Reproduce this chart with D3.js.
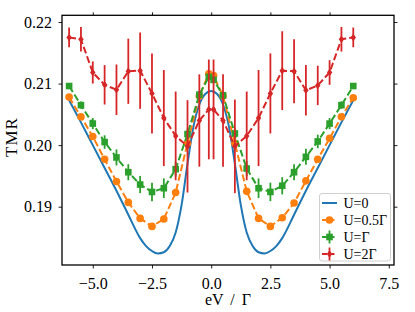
<!DOCTYPE html>
<html>
<head>
<meta charset="utf-8">
<script src="https://cdnjs.cloudflare.com/ajax/libs/d3/7.8.5/d3.min.js"></script>
<style>
    body { margin: 0; background: #fff; }
    text { font-family: "Liberation Serif", "DejaVu Serif", serif; fill: #000; }
</style>
</head>
<body>
<div id="chart"></div>
<script>
/*globals d3 */
// bias points shared by the three errorbar series
var xPoints = [-6, -5.5, -5, -4.5, -4, -3.5, -3, -2.5, -2, -1.5, -1, -0.5, -0.1,
               0.1, 0.5, 1, 1.5, 2, 2.5, 3, 3.5, 4, 4.5, 5, 5.5, 6];

// U=0, continuous curve
var blueX = [-6, -5.5, -5, -4.5, -4, -3.5, -3, -2.75, -2.5, -2.25, -2, -1.75, -1.5,
             -1.25, -1, -0.75, -0.5, -0.25, 0, 0.25, 0.5, 0.75, 1, 1.25, 1.5, 1.75,
             2, 2.25, 2.5, 2.75, 3, 3.5, 4, 4.5, 5, 5.5, 6];
var blueY = [0.2073, 0.2037, 0.2000, 0.1963, 0.1926, 0.1887, 0.1849, 0.1836, 0.1828,
             0.1824, 0.1826, 0.1836, 0.1858, 0.1903, 0.1970, 0.2030, 0.2066, 0.2083,
             0.2088, 0.2083, 0.2066, 0.2030, 0.1970, 0.1903, 0.1858, 0.1836, 0.1826,
             0.1824, 0.1828, 0.1836, 0.1849, 0.1887, 0.1926, 0.1963, 0.2000, 0.2037, 0.2073];

// U=0.5 Gamma
var halfY = [0.2078, 0.2046, 0.2014, 0.1977, 0.1941, 0.1907, 0.1881, 0.1868, 0.1880,
             0.1923, 0.2003, 0.2080, 0.2116, 0.2113, 0.2080, 0.2003, 0.1925, 0.1881,
             0.1868, 0.1882, 0.1906, 0.1942, 0.1977, 0.2011, 0.2046, 0.2077];
var halfErr = [0.0002, 0.0002, 0.0003, 0.0003, 0.0003, 0.0004, 0.0004, 0.0004, 0.0004,
               0.0004, 0.0003, 0.0003, 0.0003, 0.0003, 0.0003, 0.0003, 0.0004, 0.0004,
               0.0004, 0.0004, 0.0004, 0.0003, 0.0003, 0.0003, 0.0002, 0.0002];

// U=Gamma
var oneY = [0.2096, 0.2065, 0.2035, 0.2005, 0.1980, 0.1956, 0.1936, 0.1924, 0.1930,
            0.1961, 0.2018, 0.2082, 0.2111, 0.2106, 0.2081, 0.2019, 0.1962, 0.1930,
            0.1924, 0.1934, 0.1956, 0.1981, 0.2006, 0.2035, 0.2065, 0.2096];
var oneErr = [0.0003, 0.0006, 0.0009, 0.0011, 0.0013, 0.0013, 0.0014, 0.0015, 0.0016,
              0.0012, 0.0009, 0.0006, 0.0005, 0.0005, 0.0006, 0.0009, 0.0012, 0.0016,
              0.0015, 0.0014, 0.0013, 0.0013, 0.0011, 0.0009, 0.0006, 0.0003];

// U=2 Gamma
var twoY = [0.2175, 0.2172, 0.2118, 0.2098, 0.2090, 0.2120, 0.2121, 0.2084, 0.2044,
            0.2015, 0.1998, 0.2040, 0.2058, 0.2058, 0.2040, 0.1998, 0.2015, 0.2044,
            0.2084, 0.2121, 0.2120, 0.2089, 0.2097, 0.2118, 0.2172, 0.2175];
var twoErr = [0.0016, 0.0020, 0.0018, 0.0032, 0.0041, 0.0053, 0.0062, 0.0065, 0.0078,
              0.0072, 0.0075, 0.0075, 0.0081, 0.0081, 0.0075, 0.0076, 0.0072, 0.0078,
              0.0065, 0.0064, 0.0052, 0.0041, 0.0032, 0.0020, 0.0020, 0.0016];

var xTicks = [-5, -2.5, 0, 2.5, 5, 7.5];
var yTicks = [0.19, 0.20, 0.21, 0.22];
var legendLabels = ["U=0", "U=0.5\u0393", "U=\u0393", "U=2\u0393"];

(function () {
    'use strict';
    var width = 415,
        height = 312,
        left = 62, right = 394, top = 15.3, bottom = 265,
        dash = "7,3",
        svg = d3.select("#chart").append("svg")
            .attr("width", width)
            .attr("height", height),
        x = d3.scaleLinear().domain([-6.3, 7.72]).range([left, right]),
        y = d3.scaleLinear().domain([0.18053, 0.22109]).range([bottom, top]);

    // matplotlib's thin diamond
    var thinDiamond = {
        draw: function (ctx, size) {
            var w = Math.sqrt(size) * 0.42, h = Math.sqrt(size) * 0.58;
            ctx.moveTo(0, -h);
            ctx.lineTo(w, 0);
            ctx.lineTo(0, h);
            ctx.lineTo(-w, 0);
            ctx.closePath();
        }
    };

    var series = [
        {label: legendLabels[1], color: "#ff7f0e", ys: halfY, errs: halfErr,
         symbol: d3.symbolCircle, size: 46},
        {label: legendLabels[2], color: "#2ca02c", ys: oneY, errs: oneErr,
         symbol: d3.symbolSquare, size: 44},
        {label: legendLabels[3], color: "#d62728", ys: twoY, errs: twoErr,
         symbol: thinDiamond, size: 42}
    ];

    function rows(s) {
        return xPoints.map(function (v, i) {
            return {x: v, y: s.ys[i], e: s.errs[i]};
        });
    }

    // axes
    var xAxis = d3.axisBottom(x).tickValues(xTicks).tickSize(3.5).tickPadding(9)
            .tickFormat(d3.format(".1f")),
        yAxis = d3.axisLeft(y).tickValues(yTicks).tickSize(3.5).tickPadding(6.5)
            .tickFormat(d3.format(".2f"));

    svg.append("g").attr("transform", "translate(0," + bottom + ")").call(xAxis);
    svg.append("g").attr("transform", "translate(" + left + ",0)").call(yAxis);
    svg.append("g").attr("transform", "translate(0," + top + ")")
        .call(d3.axisTop(x).tickValues(xTicks.slice(0, 5)).tickSize(3).tickFormat(""));
    svg.append("g").attr("transform", "translate(" + right + ",0)")
        .call(d3.axisRight(y).tickValues(yTicks).tickSize(3.5).tickFormat(""));

    svg.selectAll(".domain").remove();
    svg.selectAll(".tick line").attr("stroke", "#222").attr("stroke-width", 1);
    svg.selectAll(".tick text").style("font-size", "16px");

    // blue curve
    svg.append("path")
        .datum(blueX.map(function (v, i) { return [v, blueY[i]]; }))
        .attr("fill", "none")
        .attr("stroke", "#1f77b4")
        .attr("stroke-width", 2)
        .attr("d", d3.line()
            .x(function (d) { return x(d[0]); })
            .y(function (d) { return y(d[1]); })
            .curve(d3.curveMonotoneX));

    series.forEach(function (s) {
        var data = rows(s),
            g = svg.append("g");

        g.selectAll("line.err")
            .data(data)
            .enter()
            .append("line")
            .attr("class", "err")
            .attr("x1", function (d) { return x(d.x); })
            .attr("x2", function (d) { return x(d.x); })
            .attr("y1", function (d) { return y(d.y - d.e); })
            .attr("y2", function (d) { return y(d.y + d.e); })
            .attr("stroke", s.color)
            .attr("stroke-width", 1.8);

        g.append("path")
            .datum(data)
            .attr("fill", "none")
            .attr("stroke", s.color)
            .attr("stroke-width", 2)
            .attr("stroke-dasharray", dash)
            .attr("d", d3.line()
                .x(function (d) { return x(d.x); })
                .y(function (d) { return y(d.y); }));

        g.selectAll("path.mark")
            .data(data)
            .enter()
            .append("path")
            .attr("class", "mark")
            .attr("transform", function (d) {
                return "translate(" + x(d.x) + "," + y(d.y) + ")";
            })
            .attr("d", d3.symbol().type(s.symbol).size(s.size))
            .attr("fill", s.color);
    });

    // frame
    svg.append("rect")
        .attr("x", left).attr("y", top)
        .attr("width", right - left).attr("height", bottom - top)
        .attr("fill", "none")
        .attr("stroke", "#000")
        .attr("stroke-width", 1.3);

    // axis labels
    svg.append("text")
        .attr("x", (left + right) / 2)
        .attr("y", 305)
        .attr("text-anchor", "middle")
        .style("font-size", "16px")
        .style("word-spacing", "3px")
        .text("eV / \u0393");

    svg.append("text")
        .attr("transform", "translate(17,137) rotate(-90)")
        .attr("text-anchor", "middle")
        .style("font-size", "17px")
        .style("letter-spacing", "1px")
        .text("TMR");

    // legend
    var lg = svg.append("g").attr("transform", "translate(319.5,193.5)");
    lg.append("rect")
        .attr("width", 71).attr("height", 67.5)
        .attr("rx", 2.5)
        .attr("fill", "#fff")
        .attr("fill-opacity", 0.8)
        .attr("stroke", "#d0d0d0");

    var items = [{label: legendLabels[0], color: "#1f77b4", solid: true}].concat(series),
        entry = lg.selectAll("g.entry")
            .data(items)
            .enter()
            .append("g")
            .attr("class", "entry")
            .attr("transform", function (d, i) { return "translate(0," + (9.5 + i * 17) + ")"; });

    entry.filter(function (d) { return !d.solid; })
        .append("line")
        .attr("x1", 10).attr("x2", 10)
        .attr("y1", function (d) { return d.errs === halfErr ? -1 : -6.5; })
        .attr("y2", function (d) { return d.errs === halfErr ? 1 : 6.5; })
        .attr("stroke", function (d) { return d.color; })
        .attr("stroke-width", 1.8);

    entry.append("line")
        .attr("x1", 2.5).attr("x2", 17.5)
        .attr("stroke", function (d) { return d.color; })
        .attr("stroke-width", 2)
        .attr("stroke-dasharray", function (d) { return d.solid ? null : "5,2.5"; });

    entry.filter(function (d) { return !d.solid; })
        .append("path")
        .attr("transform", "translate(10,0)")
        .attr("d", function (d) { return d3.symbol().type(d.symbol).size(d.size)(); })
        .attr("fill", function (d) { return d.color; });

    entry.append("text")
        .attr("x", 24)
        .attr("dy", "0.35em")
        .style("font-size", "14px")
        .text(function (d) { return d.label; });
}());
</script>
</body>
</html>
